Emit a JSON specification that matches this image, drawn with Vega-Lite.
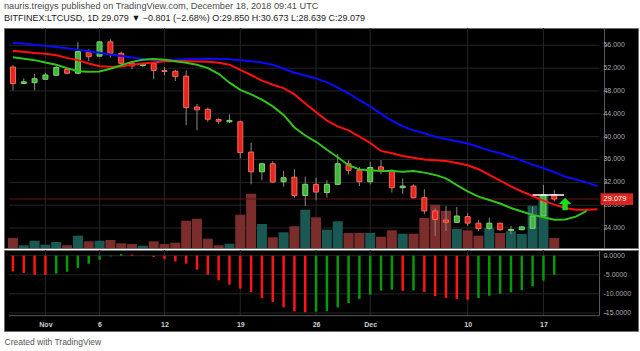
{
  "$schema": "https://vega.github.io/schema/vega-lite/v6.json",
  "background": "#ffffff",
  "padding": {"left": 3, "right": 3, "top": 2, "bottom": 2},
  "spacing": 0,
  "config": {
    "font": "Liberation Sans",
    "view": {"fill": "#000000", "stroke": "#6e6e6e", "strokeWidth": 1},
    "concat": {"spacing": 0},
    "axis": {"labelOverlap": false}
  },
  "title": {
    "text": "nauris.treigys published on TradingView.com, December 18, 2018 09:41 UTC",
    "subtitle": "BITFINEX:LTCUSD, 1D 29.079 ▼ −0.801 (−2.68%) O:29.850 H:30.673 L:28.639 C:29.079",
    "anchor": "start",
    "frame": "group",
    "fontSize": 9.2,
    "fontWeight": "normal",
    "color": "#4a4a4a",
    "subtitleFontSize": 9,
    "subtitleColor": "#1a1a1a",
    "subtitlePadding": 2,
    "offset": 4.5
  },
  "datasets": {
    "candles": [
      {"d": "2018-10-29", "o": 52.2, "h": 52.5, "l": 48.1, "c": 49.28, "v": 10},
      {"d": "2018-10-30", "o": 49.3, "h": 50.2, "l": 49.2, "c": 49.6, "v": 2.7},
      {"d": "2018-10-31", "o": 49.45, "h": 51.0, "l": 48.1, "c": 50.15, "v": 7.3},
      {"d": "2018-11-01", "o": 50.05, "h": 51.2, "l": 50.0, "c": 50.8, "v": 3.3},
      {"d": "2018-11-02", "o": 50.75, "h": 52.4, "l": 50.6, "c": 52.1, "v": 6},
      {"d": "2018-11-03", "o": 51.8, "h": 52.0, "l": 50.9, "c": 51.1, "v": 2.7},
      {"d": "2018-11-04", "o": 51.1, "h": 56.6, "l": 50.9, "c": 54.9, "v": 12.3},
      {"d": "2018-11-05", "o": 54.7, "h": 55.3, "l": 53.25, "c": 54.0, "v": 6.7},
      {"d": "2018-11-06", "o": 54.1, "h": 56.75, "l": 54.0, "c": 56.6, "v": 7.3},
      {"d": "2018-11-07", "o": 56.6, "h": 57.05, "l": 53.8, "c": 54.6, "v": 8},
      {"d": "2018-11-08", "o": 54.6, "h": 54.9, "l": 52.7, "c": 52.85, "v": 4.7},
      {"d": "2018-11-09", "o": 52.9, "h": 53.2, "l": 51.8, "c": 52.4, "v": 4},
      {"d": "2018-11-10", "o": 52.45, "h": 53.0, "l": 52.2, "c": 52.8, "v": 2.3},
      {"d": "2018-11-11", "o": 52.85, "h": 53.0, "l": 50.05, "c": 51.6, "v": 6.7},
      {"d": "2018-11-12", "o": 51.6, "h": 52.2, "l": 50.75, "c": 51.4, "v": 4},
      {"d": "2018-11-13", "o": 51.45, "h": 51.7, "l": 49.75, "c": 50.5, "v": 5.3},
      {"d": "2018-11-14", "o": 50.6, "h": 51.6, "l": 42.0, "c": 45.1, "v": 27.3},
      {"d": "2018-11-15", "o": 45.2, "h": 45.7, "l": 41.1, "c": 44.7, "v": 29.3},
      {"d": "2018-11-16", "o": 44.8, "h": 45.1, "l": 42.6, "c": 43.05, "v": 9.3},
      {"d": "2018-11-17", "o": 43.0, "h": 43.2, "l": 42.2, "c": 42.7, "v": 2.7},
      {"d": "2018-11-18", "o": 42.6, "h": 43.9, "l": 42.4, "c": 42.85, "v": 4.3},
      {"d": "2018-11-19", "o": 42.6, "h": 42.8, "l": 36.2, "c": 37.2, "v": 33.3},
      {"d": "2018-11-20", "o": 37.3, "h": 38.95, "l": 31.65, "c": 33.85, "v": 54.3},
      {"d": "2018-11-21", "o": 33.85, "h": 35.45, "l": 32.35, "c": 35.25, "v": 24},
      {"d": "2018-11-22", "o": 35.25, "h": 35.7, "l": 31.95, "c": 32.05, "v": 10.7},
      {"d": "2018-11-23", "o": 32.1, "h": 34.0, "l": 31.25, "c": 32.8, "v": 15.7},
      {"d": "2018-11-24", "o": 32.9, "h": 34.3, "l": 29.3, "c": 29.7, "v": 21.7},
      {"d": "2018-11-25", "o": 29.7, "h": 33.0, "l": 27.85, "c": 31.65, "v": 38.3},
      {"d": "2018-11-26", "o": 31.65, "h": 32.8, "l": 28.85, "c": 30.3, "v": 30.7},
      {"d": "2018-11-27", "o": 30.2, "h": 32.35, "l": 29.3, "c": 31.65, "v": 18.3},
      {"d": "2018-11-28", "o": 31.65, "h": 37.0, "l": 31.55, "c": 35.25, "v": 26.7},
      {"d": "2018-11-29", "o": 35.25, "h": 35.9, "l": 33.4, "c": 34.1, "v": 15},
      {"d": "2018-11-30", "o": 34.1, "h": 34.7, "l": 31.35, "c": 32.1, "v": 15},
      {"d": "2018-12-01", "o": 32.1, "h": 35.6, "l": 31.65, "c": 34.6, "v": 15},
      {"d": "2018-12-02", "o": 34.7, "h": 35.9, "l": 33.4, "c": 34.1, "v": 11.3},
      {"d": "2018-12-03", "o": 34.1, "h": 34.3, "l": 30.2, "c": 31.05, "v": 17.7},
      {"d": "2018-12-04", "o": 31.05, "h": 32.7, "l": 30.0, "c": 31.35, "v": 14.3},
      {"d": "2018-12-05", "o": 31.35, "h": 31.65, "l": 29.2, "c": 29.3, "v": 14.3},
      {"d": "2018-12-06", "o": 29.3, "h": 30.8, "l": 26.4, "c": 27.0, "v": 30},
      {"d": "2018-12-07", "o": 27.0, "h": 27.45, "l": 22.6, "c": 25.5, "v": 43.3},
      {"d": "2018-12-08", "o": 25.4, "h": 27.85, "l": 23.5, "c": 25.0, "v": 37.3},
      {"d": "2018-12-09", "o": 25.0, "h": 27.7, "l": 24.85, "c": 26.1, "v": 19},
      {"d": "2018-12-10", "o": 26.0, "h": 26.6, "l": 24.35, "c": 24.85, "v": 17.7},
      {"d": "2018-12-11", "o": 24.85, "h": 25.4, "l": 23.5, "c": 23.9, "v": 12.3},
      {"d": "2018-12-12", "o": 23.95, "h": 25.8, "l": 23.6, "c": 24.85, "v": 20},
      {"d": "2018-12-13", "o": 24.85, "h": 24.9, "l": 23.5, "c": 23.7, "v": 15},
      {"d": "2018-12-14", "o": 23.55, "h": 24.35, "l": 22.9, "c": 23.75, "v": 16.7},
      {"d": "2018-12-15", "o": 23.7, "h": 24.3, "l": 23.6, "c": 24.2, "v": 14},
      {"d": "2018-12-16", "o": 23.95, "h": 27.7, "l": 23.9, "c": 26.1, "v": 42.3},
      {"d": "2018-12-17", "o": 26.1, "h": 31.55, "l": 25.8, "c": 29.8, "v": 53.3},
      {"d": "2018-12-18", "o": 29.85, "h": 30.673, "l": 28.639, "c": 29.079, "v": 10}
    ],
    "ma": [
      {"d": "2018-10-29", "jaw": 56.4, "teeth": 55.0, "lips": 53.9},
      {"d": "2018-10-30", "jaw": 56.3, "teeth": 54.85, "lips": 53.65},
      {"d": "2018-10-31", "jaw": 56.1, "teeth": 54.65, "lips": 53.4},
      {"d": "2018-11-01", "jaw": 55.9, "teeth": 54.5, "lips": 53.0},
      {"d": "2018-11-02", "jaw": 55.7, "teeth": 54.25, "lips": 52.6},
      {"d": "2018-11-03", "jaw": 55.5, "teeth": 53.8, "lips": 52.0},
      {"d": "2018-11-04", "jaw": 55.2, "teeth": 53.4, "lips": 51.45},
      {"d": "2018-11-05", "jaw": 54.95, "teeth": 52.8, "lips": 51.35},
      {"d": "2018-11-06", "jaw": 54.7, "teeth": 52.35, "lips": 51.4},
      {"d": "2018-11-07", "jaw": 54.4, "teeth": 52.25, "lips": 51.9},
      {"d": "2018-11-08", "jaw": 54.13, "teeth": 52.3, "lips": 52.5},
      {"d": "2018-11-09", "jaw": 53.85, "teeth": 52.6, "lips": 53.1},
      {"d": "2018-11-10", "jaw": 53.6, "teeth": 52.8, "lips": 53.45},
      {"d": "2018-11-11", "jaw": 53.45, "teeth": 53.0, "lips": 53.6},
      {"d": "2018-11-12", "jaw": 53.4, "teeth": 53.2, "lips": 53.45},
      {"d": "2018-11-13", "jaw": 53.45, "teeth": 53.25, "lips": 53.2},
      {"d": "2018-11-14", "jaw": 53.55, "teeth": 53.2, "lips": 52.95},
      {"d": "2018-11-15", "jaw": 53.6, "teeth": 53.15, "lips": 52.6},
      {"d": "2018-11-16", "jaw": 53.65, "teeth": 53.1, "lips": 52.0},
      {"d": "2018-11-17", "jaw": 53.6, "teeth": 52.95, "lips": 51.0},
      {"d": "2018-11-18", "jaw": 53.55, "teeth": 52.6, "lips": 49.45},
      {"d": "2018-11-19", "jaw": 53.4, "teeth": 51.7, "lips": 48.2},
      {"d": "2018-11-20", "jaw": 53.2, "teeth": 50.8, "lips": 47.4},
      {"d": "2018-11-21", "jaw": 53.0, "teeth": 49.8, "lips": 46.5},
      {"d": "2018-11-22", "jaw": 52.6, "teeth": 49.1, "lips": 45.3},
      {"d": "2018-11-23", "jaw": 51.9, "teeth": 48.5, "lips": 43.8},
      {"d": "2018-11-24", "jaw": 51.2, "teeth": 47.4, "lips": 41.6},
      {"d": "2018-11-25", "jaw": 50.7, "teeth": 45.8, "lips": 40.2},
      {"d": "2018-11-26", "jaw": 50.2, "teeth": 44.3, "lips": 39.1},
      {"d": "2018-11-27", "jaw": 49.5, "teeth": 42.8, "lips": 37.7},
      {"d": "2018-11-28", "jaw": 48.6, "teeth": 41.8, "lips": 36.4},
      {"d": "2018-11-29", "jaw": 47.6, "teeth": 41.1, "lips": 35.0},
      {"d": "2018-11-30", "jaw": 46.4, "teeth": 40.0, "lips": 34.25},
      {"d": "2018-12-01", "jaw": 45.3, "teeth": 38.9, "lips": 34.1},
      {"d": "2018-12-02", "jaw": 44.0, "teeth": 37.5, "lips": 34.0},
      {"d": "2018-12-03", "jaw": 42.8, "teeth": 37.1, "lips": 34.0},
      {"d": "2018-12-04", "jaw": 41.8, "teeth": 36.6, "lips": 33.85},
      {"d": "2018-12-05", "jaw": 41.1, "teeth": 36.3, "lips": 34.0},
      {"d": "2018-12-06", "jaw": 40.6, "teeth": 36.0, "lips": 33.7},
      {"d": "2018-12-07", "jaw": 40.0, "teeth": 35.85, "lips": 33.3},
      {"d": "2018-12-08", "jaw": 39.6, "teeth": 35.75, "lips": 32.7},
      {"d": "2018-12-09", "jaw": 39.2, "teeth": 35.4, "lips": 31.5},
      {"d": "2018-12-10", "jaw": 38.8, "teeth": 35.0, "lips": 30.4},
      {"d": "2018-12-11", "jaw": 38.2, "teeth": 34.3, "lips": 29.5},
      {"d": "2018-12-12", "jaw": 37.6, "teeth": 33.3, "lips": 28.9},
      {"d": "2018-12-13", "jaw": 37.1, "teeth": 32.3, "lips": 28.3},
      {"d": "2018-12-14", "jaw": 36.5, "teeth": 31.3, "lips": 27.5},
      {"d": "2018-12-15", "jaw": 35.8, "teeth": 30.4, "lips": 26.9},
      {"d": "2018-12-16", "jaw": 35.1, "teeth": 29.6, "lips": 26.3},
      {"d": "2018-12-17", "jaw": 34.5, "teeth": 28.8, "lips": 25.9},
      {"d": "2018-12-18", "jaw": 33.8, "teeth": 28.1, "lips": 25.45},
      {"d": "2018-12-19", "jaw": 33.0, "teeth": 27.5, "lips": 25.5},
      {"d": "2018-12-20", "jaw": 32.5, "teeth": 27.2, "lips": 26.0},
      {"d": "2018-12-21", "jaw": 32.0, "teeth": 27.2, "lips": 27.0},
      {"d": "2018-12-22", "jaw": 31.3, "teeth": 27.3}
    ],
    "macd": [
      {"d": "2018-10-29", "v": -4.1, "c": "dn"},
      {"d": "2018-10-30", "v": -4.5, "c": "dn"},
      {"d": "2018-10-31", "v": -4.95, "c": "dn"},
      {"d": "2018-11-01", "v": -5.0, "c": "dn"},
      {"d": "2018-11-02", "v": -4.7, "c": "up"},
      {"d": "2018-11-03", "v": -4.2, "c": "up"},
      {"d": "2018-11-04", "v": -3.2, "c": "up"},
      {"d": "2018-11-05", "v": -2.1, "c": "up"},
      {"d": "2018-11-06", "v": -1.05, "c": "up"},
      {"d": "2018-11-07", "v": -0.17, "c": "up"},
      {"d": "2018-11-08", "v": 0.4, "c": "up"},
      {"d": "2018-11-09", "v": 0.3, "c": "dn"},
      {"d": "2018-11-10", "v": -0.1, "c": "dn"},
      {"d": "2018-11-11", "v": -0.35, "c": "dn"},
      {"d": "2018-11-12", "v": -0.87, "c": "dn"},
      {"d": "2018-11-13", "v": -1.5, "c": "dn"},
      {"d": "2018-11-14", "v": -2.1, "c": "dn"},
      {"d": "2018-11-15", "v": -3.66, "c": "dn"},
      {"d": "2018-11-16", "v": -4.97, "c": "dn"},
      {"d": "2018-11-17", "v": -6.45, "c": "dn"},
      {"d": "2018-11-18", "v": -7.6, "c": "dn"},
      {"d": "2018-11-19", "v": -8.6, "c": "dn"},
      {"d": "2018-11-20", "v": -9.5, "c": "dn"},
      {"d": "2018-11-21", "v": -11.07, "c": "dn"},
      {"d": "2018-11-22", "v": -12.1, "c": "dn"},
      {"d": "2018-11-23", "v": -13.5, "c": "dn"},
      {"d": "2018-11-24", "v": -14.57, "c": "dn"},
      {"d": "2018-11-25", "v": -14.8, "c": "dn"},
      {"d": "2018-11-26", "v": -14.65, "c": "up"},
      {"d": "2018-11-27", "v": -14.45, "c": "up"},
      {"d": "2018-11-28", "v": -13.5, "c": "up"},
      {"d": "2018-11-29", "v": -12.4, "c": "up"},
      {"d": "2018-11-30", "v": -11.3, "c": "up"},
      {"d": "2018-12-01", "v": -10.2, "c": "up"},
      {"d": "2018-12-02", "v": -9.15, "c": "up"},
      {"d": "2018-12-03", "v": -8.9, "c": "up"},
      {"d": "2018-12-04", "v": -9.2, "c": "dn"},
      {"d": "2018-12-05", "v": -9.1, "c": "up"},
      {"d": "2018-12-06", "v": -9.5, "c": "dn"},
      {"d": "2018-12-07", "v": -10.6, "c": "dn"},
      {"d": "2018-12-08", "v": -11.07, "c": "dn"},
      {"d": "2018-12-09", "v": -11.3, "c": "dn"},
      {"d": "2018-12-10", "v": -11.5, "c": "dn"},
      {"d": "2018-12-11", "v": -11.07, "c": "up"},
      {"d": "2018-12-12", "v": -10.47, "c": "up"},
      {"d": "2018-12-13", "v": -9.95, "c": "up"},
      {"d": "2018-12-14", "v": -9.6, "c": "up"},
      {"d": "2018-12-15", "v": -9.05, "c": "up"},
      {"d": "2018-12-16", "v": -8.0, "c": "up"},
      {"d": "2018-12-17", "v": -6.55, "c": "up"},
      {"d": "2018-12-18", "v": -4.97, "c": "up"}
    ],
    "gridX": [
      {"d": "2018-11-01"}, {"d": "2018-11-06"}, {"d": "2018-11-12"}, {"d": "2018-11-19"},
      {"d": "2018-11-26"}, {"d": "2018-12-01"}, {"d": "2018-12-10"}, {"d": "2018-12-17"}
    ],
    "gridP": [
      {"v": 24, "t": "24.000"}, {"v": 28, "t": "28.000"}, {"v": 32, "t": "32.000"}, {"v": 36, "t": "36.000"},
      {"v": 40, "t": "40.000"}, {"v": 44, "t": "44.000"}, {"v": 48, "t": "48.000"}, {"v": 52, "t": "52.000"}, {"v": 56, "t": "56.000"}
    ],
    "gridM": [
      {"v": 0, "t": "0.0000"}, {"v": -5, "t": "-5.0000"}, {"v": -10, "t": "-10.0000"}, {"v": -15, "t": "-15.0000"}
    ],
    "last": [
      {"p": 29.079, "label": "29.079"}
    ]
  },
  "vconcat": [
    {
      "width": 634,
      "height": 220,
      "resolve": {"scale": {"y": "independent"}},
      "layer": [
        {
          "layer": [
            {
              "data": {"name": "gridX"},
              "mark": {"type": "rule", "color": "#262626", "strokeWidth": 1},
              "encoding": {
                "x": {"field": "d", "type": "temporal", "axis": null,
                      "scale": {"type": "utc", "nice": false, "domain": [
                        {"year": 2018, "month": 10, "date": 28, "hours": 15, "minutes": 16, "utc": true},
                        {"year": 2018, "month": 12, "date": 25, "hours": 6, "minutes": 33, "utc": true}]}}
              }
            },
            {
              "data": {"name": "gridP"},
              "mark": {"type": "rule", "color": "#262626", "strokeWidth": 1},
              "encoding": {
                "y": {"field": "v", "type": "quantitative", "axis": null, "scale": {"domain": [20.5, 59.03], "nice": false, "zero": false}},
                "x": {"datum": {"year": 2018, "month": 10, "date": 28, "hours": 15, "minutes": 16, "utc": true}, "type": "temporal", "axis": null},
                "x2": {"datum": {"year": 2018, "month": 12, "date": 22, "hours": 4, "minutes": 22, "utc": true}}
              }
            },
            {
              "data": {"name": "gridP"},
              "mark": {"type": "text", "color": "#a9a9a9", "fontSize": 7, "align": "left", "baseline": "middle"},
              "encoding": {
                "y": {"field": "v", "type": "quantitative", "axis": null},
                "x": {"datum": {"year": 2018, "month": 12, "date": 22, "hours": 13, "minutes": 5, "utc": true}, "type": "temporal", "axis": null},
                "text": {"field": "t"}
              }
            }
          ]
        },
        {
          "data": {"name": "candles"},
          "mark": {"type": "bar", "size": 10},
          "encoding": {
            "x": {"field": "d", "type": "temporal", "axis": null},
            "y": {"field": "v", "type": "quantitative", "axis": null, "scale": {"domain": [0, 220], "nice": false}},
            "color": {"condition": {"test": "datum.c >= datum.o", "value": "#1a5953"}, "value": "#7b2d2c"}
          }
        },
        {
          "layer": [
            {
              "data": {"name": "last"},
              "mark": {"type": "rule", "color": "#5e1616", "strokeWidth": 1},
              "encoding": {
                "y": {"field": "p", "type": "quantitative",
                      "scale": {"domain": [20.5, 59.03], "nice": false, "zero": false},
                      "axis": {"orient": "right", "offset": -34, "values": [24, 28, 32, 36, 40, 44, 48, 52, 56],
                               "grid": false, "domain": true, "domainColor": "#5a5a5a", "ticks": true, "tickSize": 3, "tickColor": "#5a5a5a",
                               "labels": false, "title": null}},
                "x": {"datum": {"year": 2018, "month": 10, "date": 28, "hours": 15, "minutes": 16, "utc": true}, "type": "temporal", "axis": null},
                "x2": {"datum": {"year": 2018, "month": 12, "date": 22, "hours": 4, "minutes": 22, "utc": true}}
              }
            },
            {
              "data": {"name": "candles"},
              "mark": {"type": "rule", "color": "#8a8a8a", "strokeWidth": 1},
              "encoding": {
                "x": {"field": "d", "type": "temporal", "axis": null},
                "y": {"field": "l", "type": "quantitative"},
                "y2": {"field": "h"}
              }
            },
            {
              "data": {"name": "candles"},
              "mark": {"type": "bar", "size": 5, "strokeWidth": 1},
              "encoding": {
                "x": {"field": "d", "type": "temporal", "axis": null},
                "y": {"field": "o", "type": "quantitative"},
                "y2": {"field": "c"},
                "fill": {"condition": {"test": "datum.c >= datum.o", "value": "#43b53a"}, "value": "#e8241c"},
                "stroke": {"condition": {"test": "datum.c >= datum.o", "value": "#80d873"}, "value": "#f26b5e"}
              }
            },
            {
              "data": {"name": "ma"},
              "mark": {"type": "line", "color": "#0a0aff", "strokeWidth": 2},
              "encoding": {
                "x": {"field": "d", "type": "temporal", "axis": null},
                "y": {"field": "jaw", "type": "quantitative"}
              }
            },
            {
              "data": {"name": "ma"},
              "mark": {"type": "line", "color": "#ff1010", "strokeWidth": 2},
              "encoding": {
                "x": {"field": "d", "type": "temporal", "axis": null},
                "y": {"field": "teeth", "type": "quantitative"}
              }
            },
            {
              "data": {"name": "ma"},
              "mark": {"type": "line", "color": "#33c41c", "strokeWidth": 2},
              "encoding": {
                "x": {"field": "d", "type": "temporal", "axis": null},
                "y": {"field": "lips", "type": "quantitative"}
              }
            },
            {
              "data": {"name": "last"},
              "mark": {"type": "rule", "color": "#ffffff", "strokeWidth": 1.5},
              "encoding": {
                "x": {"datum": {"year": 2018, "month": 12, "date": 16, "utc": true}, "type": "temporal", "axis": null},
                "x2": {"datum": {"year": 2018, "month": 12, "date": 18, "hours": 21, "minutes": 49, "utc": true}},
                "y": {"datum": 29.78, "type": "quantitative"}
              }
            },
            {
              "data": {"name": "last"},
              "mark": {"type": "point", "shape": "M0,-1L1,0L0.42,0L0.42,1L-0.42,1L-0.42,0L-1,0Z", "filled": true, "size": 160, "color": "#16e016", "opacity": 1},
              "encoding": {
                "x": {"datum": {"year": 2018, "month": 12, "date": 19, "utc": true}, "type": "temporal", "axis": null},
                "y": {"datum": 28.2, "type": "quantitative"}
              }
            },
            {
              "data": {"name": "last"},
              "mark": {"type": "rect", "color": "#d8261f"},
              "encoding": {
                "x": {"datum": {"year": 2018, "month": 12, "date": 22, "hours": 6, "minutes": 33, "utc": true}, "type": "temporal", "axis": null},
                "x2": {"datum": {"year": 2018, "month": 12, "date": 25, "hours": 6, "minutes": 33, "utc": true}},
                "y": {"datum": 30.08, "type": "quantitative"},
                "y2": {"datum": 28.03}
              }
            },
            {
              "data": {"name": "last"},
              "mark": {"type": "text", "color": "#ffffff", "fontSize": 7.5, "align": "left", "baseline": "middle"},
              "encoding": {
                "x": {"datum": {"year": 2018, "month": 12, "date": 22, "hours": 13, "minutes": 5, "utc": true}, "type": "temporal", "axis": null},
                "y": {"field": "p", "type": "quantitative"},
                "text": {"field": "label"}
              }
            }
          ]
        }
      ]
    },
    {
      "width": 634,
      "height": 81,
      "layer": [
        {
          "data": {"name": "gridX"},
          "mark": {"type": "rule", "color": "#262626", "strokeWidth": 1},
          "encoding": {
            "x": {"field": "d", "type": "temporal",
                  "scale": {"type": "utc", "nice": false, "domain": [
                    {"year": 2018, "month": 10, "date": 28, "hours": 15, "minutes": 16, "utc": true},
                    {"year": 2018, "month": 12, "date": 25, "hours": 6, "minutes": 33, "utc": true}]},
                  "axis": {"orient": "bottom", "offset": -15,
                           "values": [
                             {"year": 2018, "month": 11, "date": 1, "utc": true},
                             {"year": 2018, "month": 11, "date": 6, "utc": true},
                             {"year": 2018, "month": 11, "date": 12, "utc": true},
                             {"year": 2018, "month": 11, "date": 19, "utc": true},
                             {"year": 2018, "month": 11, "date": 26, "utc": true},
                             {"year": 2018, "month": 12, "date": 1, "utc": true},
                             {"year": 2018, "month": 12, "date": 10, "utc": true},
                             {"year": 2018, "month": 12, "date": 17, "utc": true}],
                           "labelExpr": "utcdate(datum.value) == 1 ? utcFormat(datum.value, '%b') : utcFormat(datum.value, '%-d')",
                           "grid": false, "domain": false, "ticks": false,
                           "labelColor": "#d2d2d2", "labelFontSize": 7, "labelFontWeight": "bold", "labelPadding": 4,
                           "labelOverlap": false, "labelFlush": false,
                           "title": "Created with TradingView", "titleAnchor": "start", "titleAlign": "left",
                           "titleFontSize": 8.5, "titleFontWeight": "normal", "titleColor": "#555555", "titlePadding": 10}},
            "y": {"datum": 1.49, "type": "quantitative",
                  "scale": {"domain": [-19.71, 1.49], "nice": false, "zero": false},
                  "axis": {"orient": "right", "offset": -34, "values": [0, -5, -10, -15],
                           "grid": false, "domain": false, "ticks": true, "tickSize": 3, "tickColor": "#5a5a5a",
                           "labels": false, "title": null}},
            "y2": {"datum": -15.7}
          }
        },
        {
          "data": {"name": "gridM"},
          "mark": {"type": "rule", "color": "#262626", "strokeWidth": 1},
          "encoding": {
            "y": {"field": "v", "type": "quantitative"},
            "x": {"datum": {"year": 2018, "month": 10, "date": 28, "hours": 15, "minutes": 16, "utc": true}, "type": "temporal"},
            "x2": {"datum": {"year": 2018, "month": 12, "date": 22, "hours": 4, "minutes": 22, "utc": true}}
          }
        },
        {
          "data": {"name": "gridM"},
          "mark": {"type": "text", "color": "#a9a9a9", "fontSize": 7, "align": "left", "baseline": "middle"},
          "encoding": {
            "y": {"field": "v", "type": "quantitative"},
            "x": {"datum": {"year": 2018, "month": 12, "date": 22, "hours": 13, "minutes": 5, "utc": true}, "type": "temporal"},
            "text": {"field": "t"}
          }
        },
        {
          "data": {"name": "last"},
          "mark": {"type": "rule", "color": "#5a5a5a", "strokeWidth": 1},
          "encoding": {
            "y": {"datum": -15.7, "type": "quantitative"},
            "x": {"datum": {"year": 2018, "month": 10, "date": 28, "hours": 15, "minutes": 16, "utc": true}, "type": "temporal"},
            "x2": {"datum": {"year": 2018, "month": 12, "date": 22, "hours": 4, "minutes": 22, "utc": true}}
          }
        },
        {
          "data": {"name": "last"},
          "mark": {"type": "rule", "color": "#5a5a5a", "strokeWidth": 1},
          "encoding": {
            "x": {"datum": {"year": 2018, "month": 12, "date": 22, "hours": 4, "minutes": 22, "utc": true}, "type": "temporal"},
            "y": {"datum": 1.49, "type": "quantitative"},
            "y2": {"datum": -15.7}
          }
        },
        {
          "data": {"name": "macd"},
          "mark": {"type": "bar", "size": 2.5},
          "encoding": {
            "x": {"field": "d", "type": "temporal"},
            "y": {"field": "v", "type": "quantitative"},
            "color": {"condition": {"test": "datum.c == 'up'", "value": "#079a07"}, "value": "#ff1414"}
          }
        }
      ]
    }
  ]
}
